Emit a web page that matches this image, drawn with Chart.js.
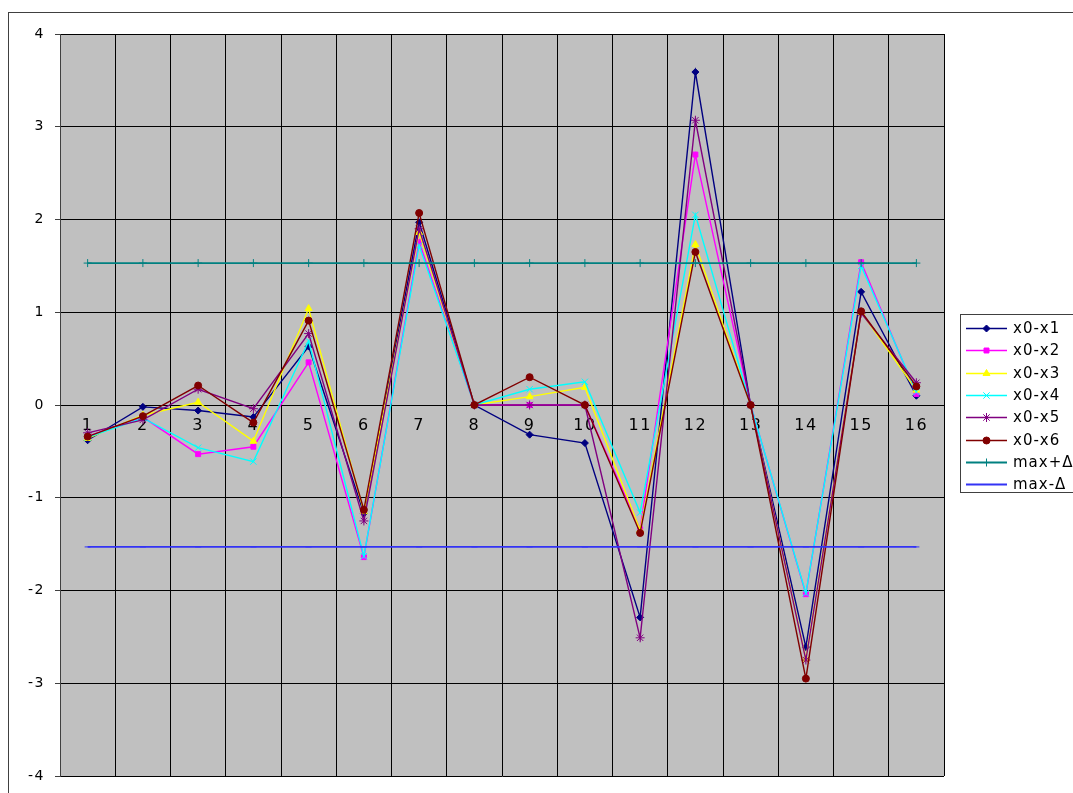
<!DOCTYPE html>
<html>
<head>
<meta charset="utf-8">
<title>x0 differences</title>
<script src="https://cdn.jsdelivr.net/npm/chart.js@4.4.1/dist/chart.umd.min.js"></script>
<style>
  html, body { margin: 0; padding: 0; background: #ffffff; }
  #wrap { width: 1073px; height: 793px; position: relative; }
  canvas { display: block; }
</style>
</head>
<body>
<div id="wrap"><canvas id="chart" width="1073" height="793"></canvas></div>
<script>
// Category labels along the zero axis
const categories = ['1','2','3','4','5','6','7','8','9','10','11','12','13','14','15','16'];

// Differences per series
const x0x1 = [-0.38, -0.02, -0.06, -0.13, 0.63, -1.17, 1.97, 0, -0.32, -0.41, -2.29, 3.59, 0, -2.61, 1.22, 0.10];
const x0x2 = [-0.34, -0.13, -0.53, -0.45, 0.46, -1.64, 1.76, 0, 0, 0, -1.34, 2.70, 0, -2.04, 1.54, 0.12];
const x0x3 = [-0.36, -0.11, 0.03, -0.39, 1.04, -1.15, 1.86, 0, 0.09, 0.19, -1.35, 1.73, 0, -2.74, 1.00, 0.16];
const x0x4 = [-0.35, -0.14, -0.46, -0.61, 0.69, -1.63, 1.72, 0, 0.17, 0.25, -1.16, 2.05, 0, -2.03, 1.50, 0.14];
const x0x5 = [-0.30, -0.16, 0.17, -0.04, 0.77, -1.25, 1.90, 0, 0, 0, -2.51, 3.07, 0, -2.75, 0.99, 0.24];
const x0x6 = [-0.34, -0.12, 0.21, -0.19, 0.91, -1.13, 2.07, 0, 0.30, 0, -1.38, 1.65, 0, -2.95, 1.01, 0.20];

// Tolerance band
const maxPlus  = [1.53, 1.53, 1.53, 1.53, 1.53, 1.53, 1.53, 1.53, 1.53, 1.53, 1.53, 1.53, 1.53, 1.53, 1.53, 1.53];
const maxMinus = [-1.53, -1.53, -1.53, -1.53, -1.53, -1.53, -1.53, -1.53, -1.53, -1.53, -1.53, -1.53, -1.53, -1.53, -1.53, -1.53];

// Y axis range
const yMin = -4;
const yMax = 4;
const yStep = 1;

const seriesDefs = [
  { label: 'x0-x1', data: x0x1, color: '#000080', style: 'rectRot',  radius: 3.5 },
  { label: 'x0-x2', data: x0x2, color: '#FF00FF', style: 'rect',     radius: 3.5 },
  { label: 'x0-x3', data: x0x3, color: '#FFFF00', style: 'triangle', radius: 4 },
  { label: 'x0-x4', data: x0x4, color: '#00FFFF', style: 'crossRot', radius: 4.5 },
  { label: 'x0-x5', data: x0x5, color: '#800080', style: 'star',     radius: 4.5 },
  { label: 'x0-x6', data: x0x6, color: '#800000', style: 'circle',   radius: 3.5 },
  { label: 'max+\u0394', data: maxPlus,  color: '#008080', style: 'cross', radius: 4 },
  { label: 'max-\u0394', data: maxMinus, color: '#3333F5', style: 'line',  radius: 3 }
];

const n = seriesDefs.length;
const datasets = seriesDefs.map((s, i) => ({
  label: s.label,
  data: s.data,
  borderColor: s.color,
  backgroundColor: s.color,
  pointBackgroundColor: s.color,
  pointBorderColor: s.color,
  pointStyle: s.style,
  pointRadius: s.radius,
  pointBorderWidth: 1,
  borderWidth: i >= 6 ? 1.8 : 1.4,
  tension: 0,
  fill: false,
  // later series are painted above earlier ones
  order: n - i
}));

Chart.defaults.font.family = "'DejaVu Sans', 'Liberation Sans', sans-serif";
Chart.defaults.color = '#000000';

// Gray plot background and the outer chart frame
const frame = {
  id: 'frame',
  beforeDraw(chart) {
    const { ctx, chartArea: a } = chart;
    ctx.save();
    ctx.fillStyle = '#ffffff';
    ctx.fillRect(0, 0, chart.width, chart.height);
    ctx.fillStyle = '#C0C0C0';
    ctx.fillRect(a.left, a.top, a.right - a.left, a.bottom - a.top);
    ctx.strokeStyle = '#404040';
    ctx.lineWidth = 1;
    ctx.strokeRect(8.5, 12.5, 3000, 3000);
    ctx.restore();
    // slightly wider lettering for the axis labels
    ctx.letterSpacing = '1.5px';
  },
  afterDraw(chart) {
    chart.ctx.letterSpacing = '0px';
  }
};

// Boxed legend on the right: line sample with its marker, then the name
const sideLegend = {
  id: 'sideLegend',
  afterDraw(chart) {
    const ctx = chart.ctx;
    ctx.save();
    ctx.fillStyle = '#ffffff';
    ctx.fillRect(960.5, 314.5, 200, 178);
    ctx.strokeStyle = '#404040';
    ctx.lineWidth = 1;
    ctx.strokeRect(960.5, 314.5, 200, 178);
    chart.data.datasets.forEach((ds, i) => {
      const y = Math.round(328 + i * 22.3) + 0.5;
      ctx.strokeStyle = ds.borderColor;
      ctx.lineWidth = ds.borderWidth;
      ctx.beginPath();
      ctx.moveTo(966, y);
      ctx.lineTo(1007, y);
      ctx.stroke();
      ctx.fillStyle = ds.pointBackgroundColor;
      ctx.strokeStyle = ds.pointBorderColor;
      ctx.lineWidth = 1;
      Chart.helpers.drawPoint(ctx, {
        pointStyle: ds.pointStyle,
        radius: ds.pointRadius,
        borderWidth: 1,
        rotation: 0
      }, 986.5, y);
      ctx.fillStyle = '#000000';
      ctx.font = "15px 'DejaVu Sans', sans-serif";
      ctx.letterSpacing = '1px';
      ctx.textAlign = 'left';
      ctx.textBaseline = 'middle';
      ctx.fillText(ds.label, 1013, y + 1);
    });
    ctx.restore();
  }
};

new Chart(document.getElementById('chart'), {
  type: 'line',
  data: { labels: categories, datasets: datasets },
  options: {
    responsive: false,
    animation: false,
    devicePixelRatio: 1,
    layout: { padding: { left: 0, top: 34, right: 129, bottom: 17 } },
    plugins: {
      legend: { display: false },
      tooltip: { enabled: false }
    },
    elements: { line: { tension: 0 } },
    scales: {
      x: {
        type: 'category',
        offset: true,
        position: { y: 0 },
        afterFit(scale) {
          // the axis sits inside the plot, so it reserves no room of its own
          scale.height = 0;
          scale.paddingTop = 0;
          scale.paddingBottom = 0;
        },
        grid: {
          offset: true,
          color: '#000000',
          lineWidth: 1,
          drawTicks: true,
          tickLength: 4,
          tickColor: '#000000'
        },
        border: { display: true, color: '#000000', width: 1 },
        ticks: {
          font: { size: 16 },
          color: '#000000',
          padding: 7,
          maxRotation: 0,
          autoSkip: false
        }
      },
      y: {
        min: yMin,
        max: yMax,
        afterFit(scale) {
          scale.width = 60;
          scale.paddingBottom = 0;
        },
        grid: {
          color: '#000000',
          lineWidth: 1,
          drawTicks: true,
          tickLength: 5,
          tickColor: '#404040'
        },
        border: { display: true, color: '#404040', width: 1 },
        ticks: {
          stepSize: yStep,
          font: { size: 14 },
          color: '#000000',
          padding: 10
        }
      }
    }
  },
  plugins: [frame, sideLegend]
});
</script>
</body>
</html>
